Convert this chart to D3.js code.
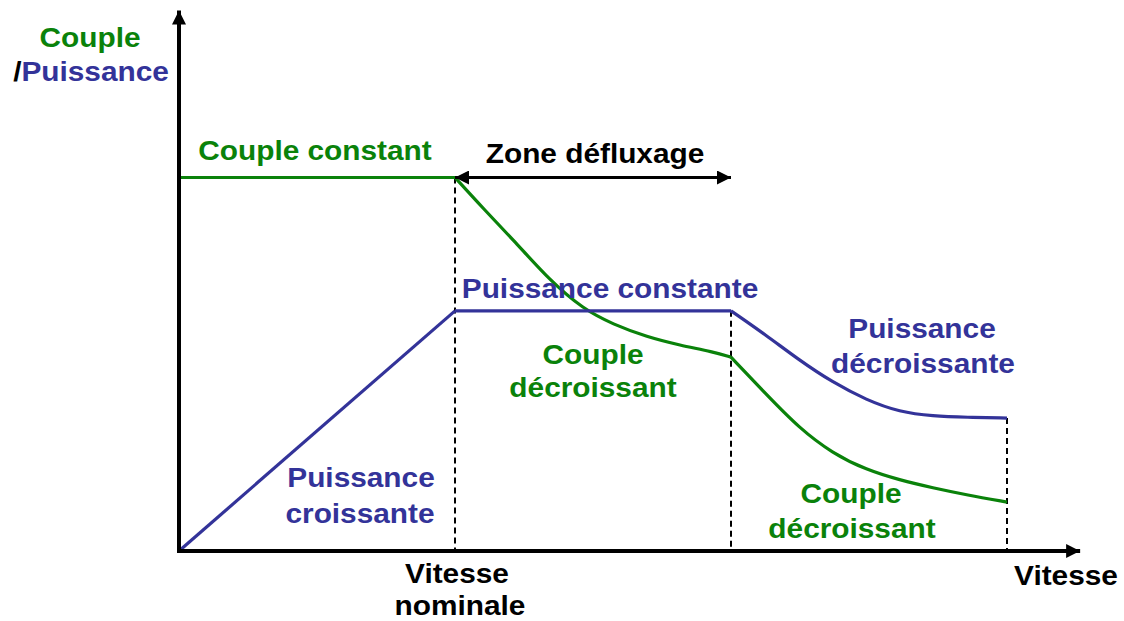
<!DOCTYPE html>
<html><head><meta charset="utf-8">
<script src="https://cdn.jsdelivr.net/npm/d3@7"></script>
<style>
body{margin:0;background:#fff}
text{font-family:"Liberation Sans",Arial,sans-serif;font-weight:bold}
</style>
</head><body>
<svg id="c" width="1124" height="621"></svg>
<script>
// speed in per-unit of nominal speed, torque/power in per-unit of rated torque
const speedMarks = [1, 2, 3];           // nominal, end of constant power, max speed
const axisMax = {x: 3.265, y: 1.447};

const coupleConstant = [[0,1],[1,1]];
const coupleFlux = [[1,1],[1.101,0.918],[1.225,0.822],[1.344,0.724],[1.464,0.648],[1.572,0.607],[1.696,0.573],[1.815,0.551],[1.935,0.533],[2,0.519]];
const coupleHigh = [[2,0.519],[2.127,0.420],[2.247,0.329],[2.367,0.262],[2.491,0.217],[2.611,0.190],[2.731,0.169],[2.855,0.150],[3,0.131]];

const powerRise = [[0,0],[1,0.643]];
const powerConst = [[1,0.643],[2,0.643]];
const powerHigh = [[2,0.643],[2.127,0.578],[2.247,0.511],[2.367,0.452],[2.491,0.404],[2.611,0.372],[2.731,0.361],[2.855,0.358],[3,0.356]];

const GREEN = "#0a820a", BLUE = "#333399", BLACK = "#000";

const svg = d3.select("#c");
const x = d3.scaleLinear().domain([0,3]).range([179,1007]);
const y = d3.scaleLinear().domain([0,1]).range([551,177.5]);

const defs = svg.append("defs");
function marker(id, size){
  defs.append("marker").attr("id", id).attr("viewBox","0 0 10 10")
    .attr("refX",10).attr("refY",5).attr("markerUnits","userSpaceOnUse")
    .attr("markerWidth",size).attr("markerHeight",size).attr("orient","auto-start-reverse")
    .append("path").attr("d","M0,0L10,5L0,10Z").attr("fill",BLACK);
}
marker("axArrow", 14);
marker("zArrow", 14);

// dashed verticals
const dashTops = [coupleConstant[1][1], powerConst[1][1], powerHigh[powerHigh.length-1][1]];
svg.selectAll("line.dash").data(speedMarks).enter().append("line")
  .attr("x1", d=>x(d)).attr("x2", d=>x(d))
  .attr("y1", (d,i)=>y(dashTops[i])).attr("y2", y(0))
  .attr("stroke", BLACK).attr("stroke-width", 2).attr("stroke-dasharray","6,4");

// curves
const line = d3.line().x(d=>x(d[0])).y(d=>y(d[1])).curve(d3.curveBasis);
[[coupleConstant,GREEN],[coupleFlux,GREEN],[coupleHigh,GREEN],
 [powerRise,BLUE],[powerConst,BLUE],[powerHigh,BLUE]].forEach(([d,c])=>{
  svg.append("path").attr("d", line(d)).attr("fill","none")
    .attr("stroke", c).attr("stroke-width", 3.2).attr("stroke-linejoin","round");
});

// zone défluxage arrow
svg.append("line").attr("x1", x(speedMarks[0])).attr("x2", x(speedMarks[1]))
  .attr("y1", y(1)).attr("y2", y(1)).attr("stroke", BLACK).attr("stroke-width", 3)
  .attr("marker-start","url(#zArrow)").attr("marker-end","url(#zArrow)");

// axes
svg.append("line").attr("x1", x(0)).attr("x2", x(axisMax.x)).attr("y1", y(0)).attr("y2", y(0))
  .attr("stroke", BLACK).attr("stroke-width", 4).attr("marker-end","url(#axArrow)");
svg.append("line").attr("x1", x(0)).attr("x2", x(0)).attr("y1", y(0)+2).attr("y2", y(axisMax.y))
  .attr("stroke", BLACK).attr("stroke-width", 4).attr("marker-end","url(#axArrow)");

// labels
const labels = [
  {t:"Couple", c:GREEN, x:90, y:47},
  {t:"Couple constant", c:GREEN, x:315, y:160},
  {t:"Zone défluxage", c:BLACK, x:595, y:163},
  {t:"Puissance constante", c:BLUE, x:610, y:298},
  {t:"Couple", c:GREEN, x:593, y:364},
  {t:"décroissant", c:GREEN, x:593, y:397},
  {t:"Puissance", c:BLUE, x:922, y:338},
  {t:"décroissante", c:BLUE, x:923, y:373},
  {t:"Puissance", c:BLUE, x:361, y:487},
  {t:"croissante", c:BLUE, x:360, y:523},
  {t:"Couple", c:GREEN, x:851, y:503},
  {t:"décroissant", c:GREEN, x:852, y:538},
  {t:"Vitesse", c:BLACK, x:457, y:583},
  {t:"nominale", c:BLACK, x:460, y:615},
  {t:"Vitesse", c:BLACK, x:1066, y:585}
];
const SX = 1.065;
svg.selectAll("text.lab").data(labels).enter().append("text")
  .attr("transform", d=>`translate(${d.x},${d.y}) scale(${SX},1)`)
  .attr("text-anchor","middle")
  .attr("fill", d=>d.c).attr("font-size", 28).text(d=>d.t);

const yl = svg.append("text").attr("transform", `translate(91,81) scale(${SX},1)`)
  .attr("text-anchor","middle").attr("font-size",28);
yl.append("tspan").attr("fill", BLACK).text("/");
yl.append("tspan").attr("fill", BLUE).text("Puissance");
</script>
</body></html>
